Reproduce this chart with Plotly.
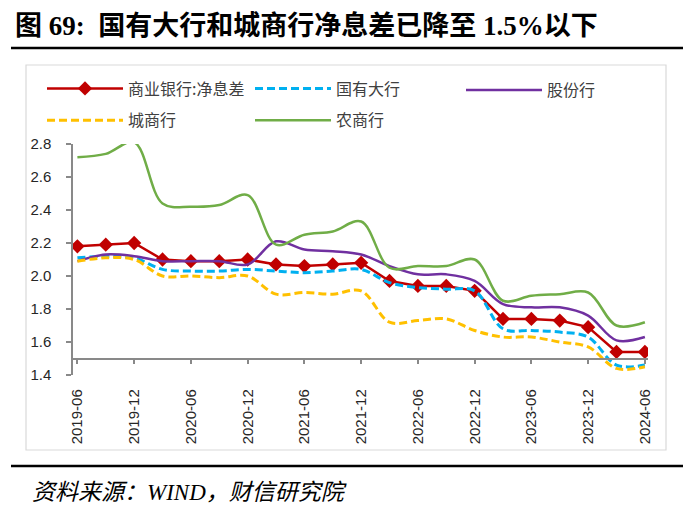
import plotly.graph_objects as go

# ---------------- data ----------------
quarters = ["2019-06", "2019-09", "2019-12", "2020-03", "2020-06", "2020-09", "2020-12",
            "2021-03", "2021-06", "2021-09", "2021-12", "2022-03", "2022-06", "2022-09",
            "2022-12", "2023-03", "2023-06", "2023-09", "2023-12", "2024-03", "2024-06"]
tick_labels = quarters[::2]

commercial = [2.18, 2.19, 2.20, 2.10, 2.09, 2.09, 2.10, 2.07, 2.06, 2.07, 2.08,
              1.97, 1.94, 1.94, 1.91, 1.74, 1.74, 1.73, 1.69, 1.54, 1.54]
state_owned = [2.11, 2.12, 2.11, 2.04, 2.03, 2.03, 2.04, 2.03, 2.02, 2.03, 2.04,
               1.96, 1.93, 1.92, 1.91, 1.68, 1.67, 1.66, 1.63, 1.46, 1.46]
joint_stock = [2.09, 2.13, 2.12, 2.09, 2.09, 2.09, 2.07, 2.21, 2.16, 2.15, 2.13,
               2.06, 2.01, 2.01, 1.97, 1.83, 1.81, 1.81, 1.76, 1.61, 1.63]
city = [2.09, 2.11, 2.10, 2.00, 2.00, 1.99, 2.00, 1.89, 1.90, 1.89, 1.91,
        1.72, 1.73, 1.74, 1.67, 1.63, 1.63, 1.60, 1.57, 1.44, 1.45]
rural = [2.72, 2.74, 2.81, 2.44, 2.42, 2.43, 2.49, 2.19, 2.25, 2.27, 2.33,
         2.05, 2.06, 2.06, 2.10, 1.85, 1.88, 1.89, 1.90, 1.70, 1.72]

names = ["商业银行:净息差", "国有大行", "股份行", "城商行", "农商行"]

Y_MIN, Y_MAX, Y_CROSS = 1.4, 2.8, 1.5

# ---------------- layout geometry (pixels) ----------------
W, H = 693, 510
L, R, T, B = 73, 45, 144, 135
PW, PH = W - L - R, H - T - B


def px_x(px):
    return (px - L) / PW


def px_y(py):
    return (H - B - py) / PH


CJK = "Noto Sans CJK SC"
SERIF = "Liberation Serif, Noto Sans CJK SC"
SANS = "Liberation Sans, Arial, sans-serif"

fig = go.Figure()

fig.add_trace(go.Scatter(x=quarters, y=commercial, name=names[0], mode="lines+markers",
                         line=dict(color="#C00000", width=2.5),
                         marker=dict(symbol="diamond", size=11, color="#C00000"),
                         legend="legend", legendgroup="a"))
fig.add_trace(go.Scatter(x=quarters, y=state_owned, name=names[1], mode="lines",
                         line=dict(color="#00B0F0", width=3, dash="8px,4px", shape="spline", smoothing=1),
                         legend="legend2", legendgroup="b"))
fig.add_trace(go.Scatter(x=quarters, y=joint_stock, name=names[2], mode="lines",
                         line=dict(color="#7030A0", width=2.5, shape="spline", smoothing=1),
                         legend="legend3", legendgroup="c"))
fig.add_trace(go.Scatter(x=quarters, y=city, name=names[3], mode="lines",
                         line=dict(color="#FFC000", width=3, dash="8px,4px", shape="spline", smoothing=1),
                         legend="legend", legendgroup="d"))
fig.add_trace(go.Scatter(x=quarters, y=rural, name=names[4], mode="lines",
                         line=dict(color="#70AD47", width=2.5, shape="spline", smoothing=1),
                         legend="legend2", legendgroup="e"))

legend_common = dict(orientation="v", xref="container", yref="container",
                     xanchor="left", yanchor="middle",
                     font=dict(family=CJK, size=16, color="#404040"),
                     itemwidth=76, tracegroupgap=8,
                     bgcolor="rgba(0,0,0,0)", borderwidth=0, traceorder="grouped",
                     itemclick=False)

fig.update_layout(
    width=W, height=H,
    margin=dict(l=L, r=R, t=T, b=B, pad=0, autoexpand=False),
    paper_bgcolor="white", plot_bgcolor="white",
    showlegend=True,
    legend=dict(x=42 / W, y=1 - 104.5 / H, **legend_common),
    legend2=dict(x=250 / W, y=1 - 104.5 / H, **legend_common),
    legend3=dict(x=461 / W, y=1 - 90 / H, **legend_common),
    xaxis=dict(type="category", range=[-0.155, len(quarters) - 1 + 0.11],
               tickmode="array", tickvals=tick_labels, ticktext=tick_labels,
               tickangle=-90, tickfont=dict(family=SANS, size=15, color="#262626"),
               showline=True, linecolor="#898989", linewidth=1.5,
               ticks="outside", ticklen=5, tickcolor="#898989", tickwidth=1.5,
               showgrid=False, zeroline=False, automargin=False,
               anchor="free", position=(Y_CROSS - Y_MIN) / (Y_MAX - Y_MIN),
               ticklabelstandoff=19),
    yaxis=dict(range=[Y_MIN, Y_MAX], dtick=0.2, tick0=Y_MIN, tickformat=".1f",
               tickfont=dict(family=SANS, size=15, color="#262626"),
               showline=True, linecolor="#898989", linewidth=1.5,
               ticks="outside", ticklen=5, tickcolor="#898989", tickwidth=1.5,
               showgrid=False, zeroline=False, automargin=False, ticklabelstandoff=12),
    shapes=[
        # chart frame
        dict(type="rect", xref="paper", yref="paper",
             x0=px_x(26), x1=px_x(666), y0=px_y(450), y1=px_y(65),
             line=dict(color="#D9D9D9", width=1.2), fillcolor="rgba(0,0,0,0)", layer="below"),
        # title rule
        dict(type="line", xref="paper", yref="paper",
             x0=px_x(11), x1=px_x(683), y0=px_y(48), y1=px_y(48),
             line=dict(color="black", width=2.5)),
        # source rule
        dict(type="line", xref="paper", yref="paper",
             x0=px_x(11), x1=px_x(683), y0=px_y(466), y1=px_y(466),
             line=dict(color="black", width=2.5)),
    ],
    annotations=[
        dict(text="<b>图 69:\u00a0\u00a0国有大行和城商行净息差已降至 1.5%以下</b>",
             xref="paper", yref="paper", x=px_x(13), y=px_y(25),
             xanchor="left", yanchor="middle", showarrow=False,
             font=dict(family=SERIF, size=27, color="black")),
        dict(text="<i>资料来源：WIND，财信研究院</i>",
             xref="paper", yref="paper", x=px_x(30), y=px_y(492),
             xanchor="left", yanchor="middle", showarrow=False,
             font=dict(family=SERIF, size=23, color="black")),
    ],
)

fig.write_html("out.html")
